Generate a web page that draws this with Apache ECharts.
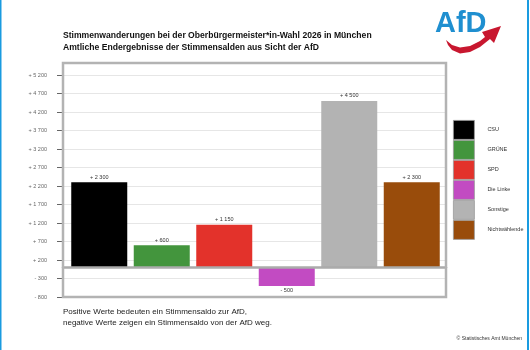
<!DOCTYPE html>
<html>
<head>
<meta charset="utf-8">
<script src="https://cdn.jsdelivr.net/npm/echarts@6/dist/echarts.min.js"></script>
<style>
  html, body { margin: 0; padding: 0; background: #fff; }
  #chart { width: 530px; height: 350px; }
</style>
</head>
<body>
<div id="chart"></div>
<script>
// chart data
const categories = ['CSU', 'GRÜNE', 'SPD', 'Die Linke', 'Sonstige', 'Nichtwählende'];
const values = [2300, 600, 1150, -500, 4500, 2300];
const colors = ['#000000', '#43953d', '#e3322b', '#c24bc2', '#b3b3b3', '#994c0b'];
const yTicks = { min: -800, max: 5200, step: 500 };

const FONT = '"Liberation Sans", Arial, sans-serif';

function fmt(v) {
  const s = String(Math.abs(v)).replace(/\B(?=(\d{3})+(?!\d))/g, ' ');
  return (v < 0 ? '- ' : '+ ') + s;
}

const series = categories.map((name, i) => ({
  name,
  type: 'bar',
  xAxisIndex: 1,
  yAxisIndex: 1,
  barWidth: 56,
  barGap: '-100%',
  itemStyle: { color: colors[i] },
  label: {
    show: true,
    position: values[i] < 0 ? 'bottom' : 'top',
    distance: 2,
    fontSize: 5.5,
    fontFamily: FONT,
    color: '#333',
    formatter: p => fmt(p.value)
  },
  data: categories.map((c, j) => (j === i ? values[i] : '-'))
}));

const chart = echarts.init(document.getElementById('chart'), null, { renderer: 'canvas' });

chart.setOption({
  animation: false,
  backgroundColor: '#fff',
  grid: [
    { left: 63, right: 84, top: 75, bottom: 53 },
    { left: 68, right: 87, top: 75, bottom: 53 }
  ],
  xAxis: [
    {
      gridIndex: 0, type: 'category', data: categories,
      axisLabel: { show: false }, axisTick: { show: false },
      axisLine: { onZero: true, lineStyle: { color: '#ababab', width: 2.5 } },
      z: 5
    },
    {
      gridIndex: 1, type: 'category', data: categories,
      axisLabel: { show: false }, axisTick: { show: false }, axisLine: { show: false }
    }
  ],
  yAxis: [
    {
      gridIndex: 0, type: 'value',
      min: yTicks.min, max: yTicks.max, interval: yTicks.step,
      axisLine: { show: false },
      axisTick: { show: true, length: 6, lineStyle: { color: '#666' } },
      axisLabel: { margin: 16, fontSize: 5.5, fontFamily: FONT, color: '#666', formatter: fmt },
      splitLine: { lineStyle: { color: '#e6e6e6', width: 1 } }
    },
    {
      gridIndex: 1, type: 'value',
      min: yTicks.min, max: yTicks.max, interval: yTicks.step,
      show: false, splitLine: { show: false }
    }
  ],
  legend: {
    orient: 'vertical',
    left: 453, top: 120,
    padding: 0,
    icon: 'rect',
    itemWidth: 21, itemHeight: 19, itemGap: 0.2,
    selectedMode: false,
    itemStyle: { borderColor: '#999', borderWidth: 0.8 },
    textStyle: { fontSize: 5.5, fontFamily: FONT, color: '#333', padding: [0, 0, 0, 8] },
    data: categories
  },
  series,
  graphic: [
    // plot frame
    { type: 'rect', shape: { x: 63, y: 63, width: 383, height: 234 }, style: { fill: 'none', stroke: '#b3b3b3', lineWidth: 2.5 }, z: 10 },
    // title
    { type: 'text', left: 63, top: 30, style: { text: 'Stimmenwanderungen bei der Oberbürgermeister*in-Wahl 2026 in München\nAmtliche Endergebnisse der Stimmensalden aus Sicht der AfD', font: 'bold 8.6px ' + FONT, fill: '#111', lineHeight: 12 } },
    // note
    { type: 'text', left: 63, top: 306, style: { text: 'Positive Werte bedeuten ein Stimmensaldo zur AfD,\nnegative Werte zeigen ein Stimmensaldo von der AfD weg.', font: '8px ' + FONT, fill: '#222', lineHeight: 11.5 } },
    // source
    { type: 'text', right: 8, top: 336, style: { text: '© Statistisches Amt München', font: '5px ' + FONT, fill: '#333' } },
    // logo
    { type: 'text', left: 435, top: 9, style: { text: 'AfD', font: 'bold 29px ' + FONT, fill: '#1f8fd0' } },
    { type: 'polygon', shape: { points: [[446, 40], [452, 45], [460, 47.5], [470, 46], [480, 41], [485, 37], [482, 32], [501, 26], [494, 43], [490, 39], [480, 47], [470, 52], [460, 53.5], [452, 50], [448, 45]] }, style: { fill: '#c8172f' } },
    // page edges
    { type: 'rect', shape: { x: 0, y: 0, width: 1.5, height: 350 }, style: { fill: '#1a9be0' } },
    { type: 'rect', shape: { x: 527, y: 0, width: 2, height: 350 }, style: { fill: '#1a9be0' } }
  ]
});
</script>
</body>
</html>
